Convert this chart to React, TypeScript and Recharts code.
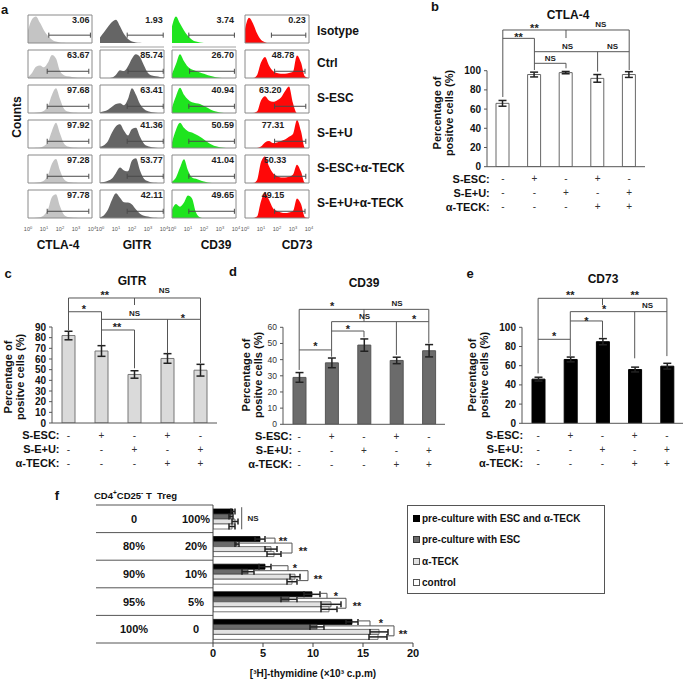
import React from "react";
import {
  AreaChart,
  Area,
  BarChart,
  Bar,
  XAxis,
  YAxis,
  ErrorBar,
  ReferenceLine,
  ReferenceDot,
  ReferenceArea,
  Legend,
} from "recharts";

const FONT = "'Liberation Sans', Arial, Helvetica, sans-serif";

// ---------- panel a : flow cytometry histograms ----------
const logBins = [0, 0.25, 0.5, 0.75, 1, 1.25, 1.5, 1.75, 2, 2.25, 2.5, 2.75, 3, 3.25, 3.5, 3.75, 4];
const conditions = ["Isotype", "Ctrl", "S-ESC", "S-E+U", "S-ESC+α-TECK", "S-E+U+α-TECK"];
const markers = ["CTLA-4", "GITR", "CD39", "CD73"];

const ctla4Counts = [
  [45, 85, 95, 72, 45, 25, 12, 5, 2, 1, 0, 0, 0, 0, 0, 0, 0],
  [3, 18, 40, 45, 38, 55, 82, 70, 25, 10, 6, 4, 2, 1, 1, 0, 0],
  [0, 0, 1, 3, 8, 25, 65, 88, 50, 15, 5, 2, 1, 0, 0, 0, 0],
  [0, 0, 1, 2, 7, 22, 62, 90, 52, 16, 5, 2, 1, 0, 0, 0, 0],
  [0, 0, 1, 3, 9, 28, 70, 86, 45, 13, 4, 2, 1, 0, 0, 0, 0],
  [0, 0, 1, 3, 10, 30, 75, 85, 42, 12, 4, 2, 1, 0, 0, 0, 0],
];
const gitrCounts = [
  [20, 38, 58, 75, 83, 60, 32, 14, 5, 2, 1, 0, 0, 0, 0, 0, 0],
  [0, 0, 0, 2, 12, 28, 25, 42, 70, 85, 75, 45, 18, 9, 6, 4, 3],
  [3, 6, 12, 22, 32, 35, 28, 50, 88, 65, 32, 14, 6, 3, 1, 0, 0],
  [5, 10, 25, 55, 78, 85, 62, 45, 68, 72, 40, 15, 6, 3, 1, 0, 0],
  [2, 4, 8, 16, 36, 55, 45, 42, 80, 88, 45, 15, 6, 2, 1, 0, 0],
  [3, 10, 30, 65, 88, 72, 56, 55, 48, 30, 15, 8, 5, 2, 1, 0, 0],
];
const cd39Counts = [
  [60, 95, 70, 45, 25, 12, 5, 2, 0, 0, 0, 0, 0, 0, 0, 0, 0],
  [15, 50, 85, 60, 40, 30, 25, 20, 15, 10, 6, 3, 1, 0, 0, 0, 0],
  [20, 60, 90, 65, 48, 38, 35, 32, 25, 18, 10, 5, 2, 0, 0, 0, 0],
  [20, 65, 90, 72, 60, 55, 48, 40, 30, 20, 12, 6, 3, 1, 0, 0, 0],
  [5, 20, 55, 85, 45, 20, 15, 10, 5, 2, 0, 0, 0, 0, 0, 0, 0],
  [30, 50, 40, 55, 80, 70, 20, 3, 0, 0, 0, 0, 0, 0, 0, 0, 0],
];
const cd73Counts = [
  [50, 90, 70, 35, 12, 3, 0, 0, 0, 0, 0, 0, 0, 0, 0, 0, 0],
  [0, 0, 0, 10, 55, 75, 45, 25, 18, 15, 15, 18, 22, 80, 55, 5, 0],
  [0, 0, 0, 5, 45, 60, 45, 40, 45, 55, 78, 95, 35, 0, 0, 0, 0],
  [0, 0, 0, 0, 5, 20, 25, 18, 20, 25, 30, 40, 50, 100, 60, 0, 0],
  [0, 0, 0, 10, 75, 95, 60, 35, 25, 20, 20, 22, 30, 65, 40, 0, 0],
  [0, 0, 0, 5, 60, 90, 65, 35, 25, 20, 18, 20, 25, 70, 50, 3, 0],
];

const ctla4Pct = ["3.06", "63.67", "97.68", "97.92", "97.28", "97.78"];
const gitrPct = ["1.93", "85.74", "63.41", "41.36", "53.77", "42.11"];
const cd39Pct = ["3.74", "26.70", "40.94", "50.59", "41.04", "49.65"];
const cd73Pct = ["0.23", "48.78", "63.20", "77.31", "50.33", "49.15"];

// gates (log decades)
const ctla4Gates = [[1.3, 3.9], [1.2, 3.8], [1.2, 3.8], [1.2, 3.8], [1.2, 3.8], [1.2, 3.8]];
const gitrGates = [[1.7, 3.95], [1.75, 3.95], [1.7, 3.95], [1.7, 3.95], [1.7, 3.95], [1.7, 3.95]];
const cd39Gates = [[1.05, 3.9], [1.1, 3.9], [1.05, 3.9], [1.05, 3.9], [1.05, 3.9], [1.05, 3.9]];
const cd73Gates = [[1.65, 3.8], [1.85, 3.75], [1.85, 3.8], [1.85, 3.8], [1.85, 3.8], [1.85, 3.75]];

// where the percentage labels end (log decades)
const ctla4PctX = [3.85, 3.85, 3.85, 3.85, 3.85, 3.85];
const gitrPctX = [3.92, 3.92, 3.92, 3.92, 3.92, 3.92];
const cd39PctX = [3.88, 3.88, 3.88, 3.88, 3.88, 3.88];
const cd73PctX = [3.8, 3.08, 2.28, 2.46, 2.58, 2.46];

const histColumns = [
  { counts: ctla4Counts, pct: ctla4Pct, gates: ctla4Gates, pctX: ctla4PctX, color: "#c4c4c4" },
  { counts: gitrCounts, pct: gitrPct, gates: gitrGates, pctX: gitrPctX, color: "#656565" },
  { counts: cd39Counts, pct: cd39Pct, gates: cd39Gates, pctX: cd39PctX, color: "#1fe41f" },
  { counts: cd73Counts, pct: cd73Pct, gates: cd73Gates, pctX: cd73PctX, color: "#ff0808" },
];
const colX = [28.3, 100, 172, 245];
const rowY = [15, 50, 85, 119.5, 155, 190];
const titleX = [58, 137, 216, 297];
const rowLabelY = [31, 63, 98, 133, 168, 203];

// ---------- panels b-e : percentage of positive cells ----------
const groupKeys = ["g1", "g2", "g3", "g4", "g5"];
const escSigns = ["-", "+", "-", "+", "-"];
const seuSigns = ["-", "-", "+", "-", "+"];
const teckSigns = ["-", "-", "-", "+", "+"];
const signRows = [
  { label: "S-ESC:", signs: escSigns },
  { label: "S-E+U:", signs: seuSigns },
  { label: "α-TECK:", signs: teckSigns },
];

const ctla4Pos = [66, 96, 98, 92, 96];
const ctla4PosErr = [3, 2.5, 1.2, 4, 3];
const gitrPos = [82, 67.5, 45.5, 60.5, 49.5];
const gitrPosErr = [4, 5, 3.5, 4.5, 5.5];
const cd39Pos = [29, 38, 49, 39.5, 45.5];
const cd39PosErr = [3, 3, 3.8, 2, 3.8];
const cd73Pos = [46, 66.5, 85, 56, 59.5];
const cd73PosErr = [2, 2.5, 3.2, 2.5, 3];

type Seg = [number, number, number, number];
type Note = [string, number, number];

// significance brackets: x = bar slot (0.5 .. 4.5), y = value units
const bSegs: Seg[] = [
  [0.5, 142.4, 4.5, 142.4], [0.5, 142.4, 0.5, 72.6], [4.5, 142.4, 4.5, 100.7], [2.5, 142.4, 2.5, 134],
  [0.5, 133.7, 1.5, 133.7], [1.5, 133.7, 1.5, 100.7],
  [1.5, 119.8, 4.5, 119.8], [3.5, 119.8, 3.5, 99],
  [1.5, 107.7, 2.5, 107.7], [2.5, 107.7, 2.5, 102.5],
];
const bNotes: Note[] = [["**", 1.5, 147.6], ["NS", 3.6, 148.6], ["**", 1.0, 138], ["NS", 2.55, 125.7], ["NS", 3.97, 125.7], ["NS", 2.0, 113]];

const cSegs: Seg[] = [
  [0.5, 117.2, 4.5, 117.2], [0.5, 117.2, 0.5, 87], [4.5, 117.2, 4.5, 56], [2.5, 117.2, 2.5, 110.6],
  [0.5, 104.3, 1.5, 104.3], [1.5, 104.3, 1.5, 73],
  [1.5, 97.2, 4.5, 97.2], [3.5, 97.2, 3.5, 65.3],
  [1.5, 87.2, 2.5, 87.2], [2.5, 87.2, 2.5, 51.3],
];
const cNotes: Note[] = [["**", 1.6, 122], ["NS", 3.4, 124], ["*", 0.97, 109], ["NS", 2.5, 102.8], ["*", 3.97, 101], ["**", 1.97, 91.9]];

const dSegs: Seg[] = [
  [0.5, 71.1, 4.5, 71.1], [0.5, 71.1, 0.5, 33.6], [4.5, 71.1, 4.5, 50], [2.5, 71.1, 2.5, 63.5],
  [0.5, 46, 1.5, 46], [1.5, 63.5, 1.5, 41.8],
  [1.5, 63.5, 4.5, 63.5], [3.5, 63.5, 3.5, 42.9],
  [1.5, 57.7, 2.5, 57.7], [2.5, 57.7, 2.5, 53.8],
];
const dNotes: Note[] = [["*", 1.52, 74.8], ["NS", 3.52, 74.8], ["*", 1.0, 50], ["NS", 2.52, 66.5], ["*", 4.05, 66.5], ["*", 2.0, 60.4]];

const eSegs: Seg[] = [
  [0.5, 130.2, 4.5, 130.2], [0.5, 130.2, 0.5, 52], [4.5, 130.2, 4.5, 70], [2.5, 130.2, 2.5, 123],
  [0.5, 87.5, 1.5, 87.5], [1.5, 116.3, 1.5, 70],
  [1.5, 116.3, 4.5, 116.3], [3.5, 116.3, 3.5, 67.7],
  [1.5, 106.6, 2.5, 106.6], [2.5, 106.6, 2.5, 89],
];
const eNotes: Note[] = [["**", 1.5, 136], ["**", 3.5, 136], ["*", 1.0, 93.7], ["*", 2.55, 121.5], ["NS", 3.9, 123], ["*", 2.0, 109.4]];

// ---------- panel f : proliferation ----------
const cd4Share = ["0", "80%", "90%", "95%", "100%"];
const tregShare = ["100%", "20%", "10%", "5%", "0"];
const escTeckCpm = [2.0, 4.7, 5.2, 9.9, 13.9];
const escTeckErr = [0.2, 0.5, 0.6, 0.8, 0.6];
const escCpm = [1.8, 2.4, 3.5, 7.6, 10.4];
const escErr = [0.2, 0.2, 0.6, 0.8, 0.7];
const teckCpm = [2.2, 5.8, 8.2, 11.8, 16.6];
const teckErr = [0.3, 0.6, 0.5, 1.0, 0.9];
const controlCpm = [1.9, 6.1, 7.9, 11.6, 16.5];
const controlErr = [0.3, 0.7, 0.5, 0.8, 0.9];
const fSeriesNames = ["pre-culture with ESC and α-TECK", "pre-culture with ESC", "α-TECK", "control"];
const fTicks = [0, 5, 10, 15, 20];

const fSeries = [
  { key: "escTeck", errKey: "escTeckE", name: fSeriesNames[0], fill: "#000000", stroke: "#000000" },
  { key: "esc", errKey: "escE", name: fSeriesNames[1], fill: "#6a6a6a", stroke: "#333333" },
  { key: "teck", errKey: "teckE", name: fSeriesNames[2], fill: "#e2e2e2", stroke: "#555555" },
  { key: "control", errKey: "controlE", name: fSeriesNames[3], fill: "#ffffff", stroke: "#555555" },
];

// x = cpm (x10^3), y = row slot (0..5, bar rows at .2/.38/.56/.74)
const fSegs: Seg[] = [
  [2.87, 0.08, 2.87, 0.88],
  [5.2, 1.2, 6.2, 1.2], [6.2, 1.2, 6.2, 1.38], [2.7, 1.38, 7.9, 1.38], [7.9, 1.38, 7.9, 1.74], [6.9, 1.74, 7.9, 1.74],
  [5.9, 2.2, 7.5, 2.2], [7.5, 2.2, 7.5, 2.38], [4.2, 2.38, 9.5, 2.38], [9.5, 2.38, 9.5, 2.74], [8.4, 2.74, 9.5, 2.74],
  [10.7, 3.2, 11.4, 3.2], [11.4, 3.2, 11.4, 3.38], [8.5, 3.38, 13.3, 3.38], [13.3, 3.38, 13.3, 3.74], [12.5, 3.74, 13.3, 3.74],
  [14.6, 4.2, 15.7, 4.2], [15.7, 4.2, 15.7, 4.38], [11.2, 4.38, 18.1, 4.38], [18.1, 4.38, 18.1, 4.74], [17.5, 4.74, 18.1, 4.74],
];
const fNotes: Note[] = [
  ["NS", 4.0, 0.48],
  ["**", 7.0, 1.2], ["**", 9.0, 1.58],
  ["*", 8.2, 2.2], ["**", 10.5, 2.58],
  ["*", 12.3, 3.2], ["**", 14.4, 3.58],
  ["*", 16.8, 4.2], ["**", 19.0, 4.58],
];

// ---------- helpers ----------
function Txt({ x, y, children, size = 12, weight = "bold", anchor = "start" }: any) {
  const tx = anchor === "middle" ? "-50%" : anchor === "end" ? "-100%" : "0";
  return (
    <div
      style={{
        position: "absolute",
        left: x,
        top: y,
        transform: `translate(${tx}, -50%)`,
        fontSize: size,
        fontWeight: weight,
        lineHeight: 1,
        whiteSpace: "nowrap",
        fontFamily: FONT,
        color: "#111",
      }}
    >
      {children}
    </div>
  );
}

function VTitle({ x, y, lines, size = 11 }: any) {
  return (
    <div
      style={{
        position: "absolute",
        left: x,
        top: y,
        transform: "translate(-50%, -50%) rotate(-90deg)",
        textAlign: "center",
        whiteSpace: "nowrap",
        lineHeight: "12px",
        fontSize: size,
        fontWeight: "bold",
        fontFamily: FONT,
        color: "#111",
      }}
    >
      {lines.map((l: string) => (
        <div key={l}>{l}</div>
      ))}
    </div>
  );
}

const noteShape = (label: string, small: number, big: number) => (p: any) => {
  const star = label.includes("*");
  return (
    <text
      x={p.cx}
      y={p.cy + (star ? 2.5 : 0)}
      textAnchor="middle"
      dominantBaseline="central"
      fontSize={star ? big : small}
      fontWeight="bold"
      fontFamily={FONT}
      fill="#222"
    >
      {label}
    </text>
  );
};

const DecadeTick = (props: any) => {
  const { x, y, payload } = props;
  return (
    <text x={x} y={y + 11} textAnchor="middle" dominantBaseline="central" fontSize={5.5} fill="#555" fontFamily={FONT}>
      10
      <tspan dy={-2.5} fontSize={4}>
        {payload.value}
      </tspan>
    </text>
  );
};

function HistCell({ counts, color, pct, pctX, gate, gateY, boxed, showTicks, left, top }: any) {
  const data = logBins.map((x, i) => ({ x, n: counts[i] }));
  const h = 30 + (showTicks ? 16 : 0);
  return (
    <div style={{ position: "absolute", left: left - 1, top: top - 1 }}>
      <AreaChart width={66} height={h} data={data} margin={{ top: 1, right: 1, bottom: 1, left: 1 }}>
        <XAxis
          dataKey="x"
          type="number"
          domain={[0, 4]}
          allowDataOverflow
          ticks={[0, 1, 2, 3, 4]}
          interval={0}
          hide={!showTicks}
          height={16}
          axisLine={false}
          tickLine={false}
          tickSize={0}
          tickMargin={0}
          tick={<DecadeTick />}
        />
        <YAxis type="number" domain={[0, 100]} allowDataOverflow hide />
        <Area dataKey="n" type="monotone" fill={color} fillOpacity={1} stroke="none" isAnimationActive={false} />
        {boxed ? (
          <ReferenceArea x1={0} x2={4} y1={0} y2={100} fill="none" stroke="#8a8a8a" strokeWidth={1} ifOverflow="visible" />
        ) : (
          <ReferenceLine segment={[{ x: 0, y: -14 }, { x: 4, y: -14 }]} stroke="#d0d0d0" strokeWidth={2} ifOverflow="visible" />
        )}
        <ReferenceLine segment={[{ x: gate[0], y: gateY }, { x: gate[1], y: gateY }]} stroke="#4a4a4a" ifOverflow="visible" />
        <ReferenceLine segment={[{ x: gate[0], y: gateY - 9 }, { x: gate[0], y: gateY + 9 }]} stroke="#4a4a4a" ifOverflow="visible" />
        <ReferenceLine segment={[{ x: gate[1], y: gateY - 9 }, { x: gate[1], y: gateY + 9 }]} stroke="#4a4a4a" ifOverflow="visible" />
        <ReferenceDot
          x={pctX}
          y={82}
          r={1}
          ifOverflow="visible"
          shape={(p: any) => (
            <text x={p.cx} y={p.cy} textAnchor="end" dominantBaseline="central" fontSize={9} fontWeight="bold" fontFamily={FONT} fill="#222">
              {pct}
            </text>
          )}
        />
      </AreaChart>
    </div>
  );
}

function PanelA() {
  return (
    <>
      <Txt x={4.5} y={8.5} size={13} anchor="middle">a</Txt>
      <VTitle x={17} y={117} lines={["Counts"]} size={12} />
      {histColumns.map((col, c) =>
        conditions.map((_, r) => (
          <HistCell
            key={`${c}-${r}`}
            counts={col.counts[r]}
            color={col.color}
            pct={col.pct[r]}
            pctX={col.pctX[r]}
            gate={col.gates[r]}
            gateY={r === 0 ? 28 : 24}
            boxed={!(r === 0 && (c === 1 || c === 2))}
            showTicks={r === conditions.length - 1}
            left={colX[c]}
            top={rowY[r]}
          />
        ))
      )}
      {markers.map((m, c) => (
        <Txt key={m} x={titleX[c]} y={245} anchor="middle">{m}</Txt>
      ))}
      {conditions.map((cond, r) => (
        <Txt key={cond} x={317} y={rowLabelY[r]}>{cond}</Txt>
      ))}
    </>
  );
}

const SignTick = (props: any) => {
  const { x, y, index, gap } = props;
  const dy = [12, 26, 40];
  return (
    <g fontFamily={FONT}>
      {signRows.map((row, k) => (
        <g key={row.label}>
          <text x={x} y={y + dy[k]} textAnchor="middle" dominantBaseline="central" fontSize={10} fill="#333">
            {row.signs[index]}
          </text>
          {index === 0 && (
            <text x={x - gap} y={y + dy[k]} textAnchor="end" dominantBaseline="central" fontSize={11} fontWeight="bold" fill="#111">
              {row.label}
            </text>
          )}
        </g>
      ))}
    </g>
  );
};

function BarPanel(p: any) {
  // slot = centre of each bar on a 0..5 line, used to place the brackets
  const data = groupKeys.map((key, i) => ({ key, slot: i + 0.5, value: p.values[i], err: p.errors[i] }));
  const width = p.yAxisWidth + p.plotW + 2;
  const height = p.marginTop + p.plotH + 50;
  return (
    <div style={{ position: "absolute", left: p.left, top: p.top }}>
      <BarChart width={width} height={height} data={data} margin={{ top: p.marginTop, right: 2, bottom: 0, left: 0 }}>
        <XAxis
          xAxisId="cat"
          dataKey="key"
          height={50}
          interval={0}
          tickLine={false}
          tickSize={0}
          tickMargin={0}
          axisLine={{ stroke: "#555" }}
          tick={<SignTick gap={p.labelGap} />}
        />
        <XAxis xAxisId="num" dataKey="slot" type="number" domain={[0, 5]} allowDataOverflow hide />
        <YAxis
          width={p.yAxisWidth}
          domain={[0, p.yMax]}
          allowDataOverflow
          ticks={p.yTicks}
          interval={0}
          tickSize={3}
          tickMargin={3}
          axisLine={{ stroke: "#555" }}
          tickLine={{ stroke: "#555" }}
          tick={p.tickStyle}
        />
        <Bar xAxisId="cat" dataKey="value" fill={p.fill} stroke={p.stroke} barSize={13} isAnimationActive={false}>
          <ErrorBar dataKey="err" width={4} stroke="#222" />
        </Bar>
        {p.segs.map((s: Seg, i: number) => (
          <ReferenceLine
            key={`s${i}`}
            xAxisId="num"
            segment={[{ x: s[0], y: s[1] }, { x: s[2], y: s[3] }]}
            stroke="#555"
            ifOverflow="visible"
          />
        ))}
        {p.notes.map((n: Note, i: number) => (
          <ReferenceDot key={`n${i}`} xAxisId="num" x={n[1]} y={n[2]} r={1} ifOverflow="visible" shape={noteShape(n[0], 8, 11)} />
        ))}
      </BarChart>
    </div>
  );
}

const boldTick = { fontSize: 10, fontWeight: "bold", fill: "#111", fontFamily: FONT };
const thinTick = { fontSize: 8.5, fill: "#333", fontFamily: FONT };
const yTitle = ["Percentage of", "positve cells (%)"];

const TableTick = (props: any) => {
  const { x, y, index } = props;
  return (
    <g fontFamily={FONT} fontWeight="bold" fontSize={11} fill="#111">
      <text x={x - 79} y={y} textAnchor="middle" dominantBaseline="central">{cd4Share[index]}</text>
      <text x={x - 17} y={y} textAnchor="middle" dominantBaseline="central">{tregShare[index]}</text>
    </g>
  );
};

const FLegend = () => (
  <div
    style={{
      border: "1px solid #555",
      width: 198,
      height: 89,
      boxSizing: "border-box",
      paddingTop: 2,
      background: "#fff",
      fontFamily: FONT,
    }}
  >
    {fSeries.map((s) => (
      <div key={s.key} style={{ display: "flex", alignItems: "center", height: 21.3, paddingLeft: 5, fontSize: 10, fontWeight: "bold", color: "#111" }}>
        <span style={{ display: "inline-block", width: 7, height: 7, background: s.fill, border: `1px solid ${s.stroke}`, boxSizing: "border-box", marginRight: 2 }} />
        {s.name}
      </div>
    ))}
  </div>
);

function PanelF() {
  const data = cd4Share.map((c, i) => ({
    row: `${c}|${tregShare[i]}`,
    slot: i + 0.5,
    escTeck: escTeckCpm[i],
    escTeckE: escTeckErr[i],
    esc: escCpm[i],
    escE: escErr[i],
    teck: teckCpm[i],
    teckE: teckErr[i],
    control: controlCpm[i],
    controlE: controlErr[i],
  }));
  return (
    <div style={{ position: "absolute", left: 0, top: 480 }}>
      <BarChart
        width={685}
        height={201}
        data={data}
        layout="vertical"
        barGap={0}
        barCategoryGap={3}
        margin={{ top: 25, right: 272, bottom: 3, left: 93 }}
      >
        <XAxis
          type="number"
          domain={[0, 20]}
          allowDataOverflow
          ticks={fTicks}
          interval={0}
          height={35}
          tickSize={4}
          tickMargin={2}
          axisLine={{ stroke: "#444" }}
          tickLine={{ stroke: "#444" }}
          tick={{ fontSize: 11, fontWeight: "bold", fill: "#111", fontFamily: FONT }}
          label={{ value: "[³H]-thymidine (×10³ c.p.m)", position: "insideBottom", offset: 1, fontSize: 10, fontWeight: "bold", fill: "#111", fontFamily: FONT }}
        />
        <YAxis
          yAxisId="cat"
          type="category"
          dataKey="row"
          width={120}
          interval={0}
          tickSize={0}
          tickMargin={0}
          tickLine={false}
          axisLine={{ stroke: "#444" }}
          tick={<TableTick />}
        />
        <YAxis yAxisId="num" dataKey="slot" type="number" domain={[0, 5]} allowDataOverflow hide />
        {fSeries.map((s) => (
          <Bar key={s.key} yAxisId="cat" dataKey={s.key} name={s.name} fill={s.fill} stroke={s.stroke} strokeWidth={0.8} barSize={5} isAnimationActive={false}>
            <ErrorBar dataKey={s.errKey} direction="x" width={3} stroke="#222" />
          </Bar>
        ))}
        {[0, 1, 2, 3, 4, 5].map((k) => (
          <ReferenceLine key={`t${k}`} yAxisId="num" segment={[{ x: -11.7, y: k }, { x: 0, y: k }]} stroke="#555" ifOverflow="visible" />
        ))}
        {fSegs.map((s, i) => (
          <ReferenceLine key={`fs${i}`} yAxisId="num" segment={[{ x: s[0], y: s[1] }, { x: s[2], y: s[3] }]} stroke="#555" ifOverflow="visible" />
        ))}
        {fNotes.map((n, i) => (
          <ReferenceDot key={`fn${i}`} yAxisId="num" x={n[1]} y={n[2]} r={1} ifOverflow="visible" shape={noteShape(n[0], 8, 11)} />
        ))}
        <Legend
          layout="vertical"
          align="center"
          verticalAlign="middle"
          wrapperStyle={{ left: 407, top: 25, width: 198, height: 89 }}
          content={() => <FLegend />}
        />
      </BarChart>
    </div>
  );
}

export default function App() {
  return (
    <div
      style={{
        position: "absolute",
        left: 0,
        top: 0,
        width: 685,
        height: 681,
        background: "#fff",
        overflow: "hidden",
        fontFamily: FONT,
      }}
    >
      <style>{`.recharts-surface{overflow:visible}`}</style>
      <PanelA />

      <Txt x={435} y={6} size={13} anchor="middle">b</Txt>
      <Txt x={568} y={15} anchor="middle">CTLA-4</Txt>
      <VTitle x={443} y={113} lines={yTitle} />
      <BarPanel
        left={430} top={0} yAxisWidth={57} plotW={158} plotH={96} marginTop={70.7}
        values={ctla4Pos} errors={ctla4PosErr} yMax={100} yTicks={[0, 20, 40, 60, 80, 100]}
        fill="#ffffff" stroke="#666" segs={bSegs} notes={bNotes} labelGap={13} tickStyle={boldTick}
      />

      <Txt x={8} y={273} size={13} anchor="middle">c</Txt>
      <Txt x={132} y={281} anchor="middle">GITR</Txt>
      <VTitle x={14} y={377} lines={yTitle} />
      <BarPanel
        left={0} top={250} yAxisWidth={52} plotW={165} plotH={96} marginTop={77}
        values={gitrPos} errors={gitrPosErr} yMax={90} yTicks={[0, 10, 20, 30, 40, 50, 60, 70, 80, 90]}
        fill="#dadada" stroke="#777" segs={cSegs} notes={cNotes} labelGap={9} tickStyle={boldTick}
      />

      <Txt x={233} y={271} size={13} anchor="middle">d</Txt>
      <Txt x={364} y={283} anchor="middle">CD39</Txt>
      <VTitle x={252} y={375} lines={yTitle} />
      <BarPanel
        left={238} top={250} yAxisWidth={45} plotW={162} plotH={97} marginTop={77.3}
        values={cd39Pos} errors={cd39PosErr} yMax={60} yTicks={[0, 10, 20, 30, 40, 50, 60]}
        fill="#6b6b6b" stroke="#555" segs={dSegs} notes={dNotes} labelGap={7} tickStyle={thinTick}
      />

      <Txt x={470} y={273} size={13} anchor="middle">e</Txt>
      <Txt x={603} y={279} anchor="middle">CD73</Txt>
      <VTitle x={478} y={375} lines={yTitle} />
      <BarPanel
        left={465} top={250} yAxisWidth={57} plotW={161} plotH={96} marginTop={77.3}
        values={cd73Pos} errors={cd73PosErr} yMax={100} yTicks={[0, 20, 40, 60, 80, 100]}
        fill="#000000" stroke="#000" segs={eSegs} notes={eNotes} labelGap={15} tickStyle={boldTick}
      />

      <Txt x={57} y={495} size={13} anchor="middle">f</Txt>
      <Txt x={94} y={495} size={9.5}>
        CD4<span style={{ fontSize: 6.5, verticalAlign: "super" }}>+</span>CD25
        <span style={{ fontSize: 6.5, verticalAlign: "super" }}>-</span> T&nbsp;&nbsp;Treg
      </Txt>
      <PanelF />
    </div>
  );
}
